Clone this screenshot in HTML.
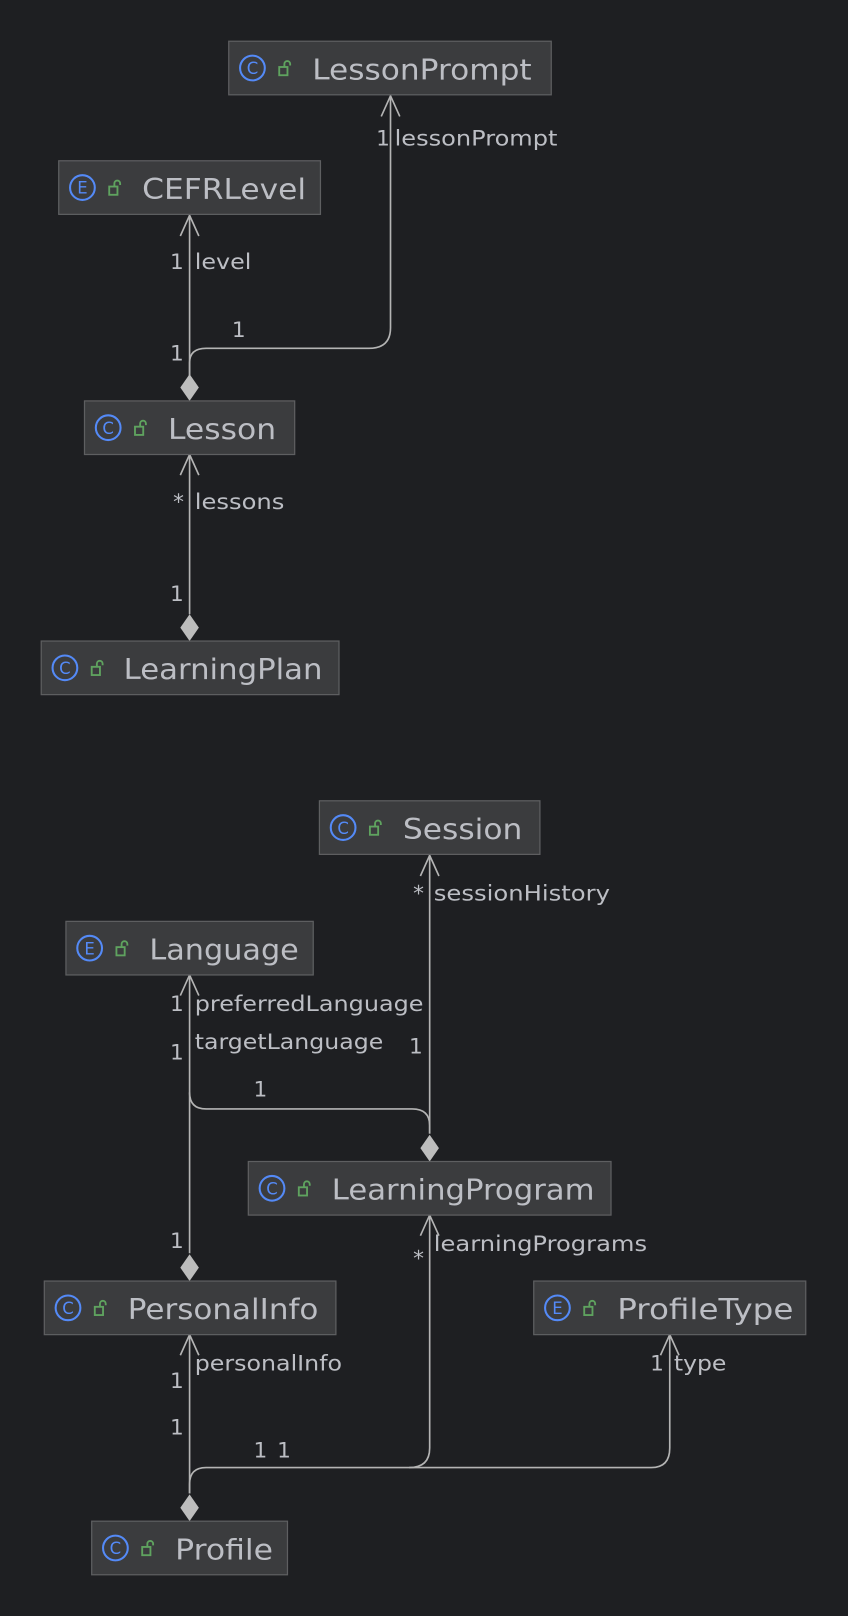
<!DOCTYPE html>
<html><head><meta charset="utf-8"><style>
html,body{margin:0;padding:0;background:#1e1f22;}
svg{display:block}
text{font-family:"DejaVu Sans","Liberation Sans",sans-serif;fill:#bcbec4}
.t{font-size:28px}
.l{font-size:21px}
.ln{stroke:#b4b4b4;stroke-width:1.6;fill:none}
.box{fill:#3b3c3e;stroke:#5e5f61;stroke-width:1.2}
.dia{fill:#bdbdbd}
</style></head><body>
<svg width="848" height="1616" viewBox="0 0 823 1568" preserveAspectRatio="none">
<defs>
<g id="lock"><rect x="0" y="4" width="8" height="8" fill="none" stroke="#5fa35f" stroke-width="1.8"/><path d="M5 4 V1 a2.8 2.8 0 0 1 5.6 0 V2.5" fill="none" stroke="#5fa35f" stroke-width="1.8"/></g>
</defs>

<g class="ln">
<path d="M184 365 V209"/>
<path d="M175 229 L184 209 L193 229"/>
<path d="M184 365 V352 Q184 338 200 338 H358 Q379 338 379 318 V93"/>
<path d="M370 113 L379 93 L388 113"/>
<path d="M184 596 V441"/>
<path d="M175 461 L184 441 L193 461"/>
<path d="M417 1100 V830"/>
<path d="M408 850 L417 830 L426 850"/>
<path d="M417 1100 V1092 Q417 1076 400 1076 H200 Q184 1076 184 1060"/>
<path d="M184 1216 V946"/>
<path d="M175 966 L184 946 L193 966"/>
<path d="M184 1449 V1295"/>
<path d="M175 1315 L184 1295 L193 1315"/>
<path d="M184 1449 V1440 Q184 1424 200 1424 H632 Q650 1424 650 1405 V1295"/>
<path d="M641 1315 L650 1295 L659 1315"/>
<path d="M397 1424 Q417 1424 417 1405 V1179"/>
<path d="M408 1199 L417 1179 L426 1199"/>
</g>
<path class="dia" d="M184 389 L175 376 L184 363 L193 376Z"/>
<path class="dia" d="M184 622 L175 609 L184 596 L193 609Z"/>
<path class="dia" d="M417 1127 L408 1114 L417 1101 L426 1114Z"/>
<path class="dia" d="M184 1243 L175 1230 L184 1217 L193 1230Z"/>
<path class="dia" d="M184 1476 L175 1463 L184 1450 L193 1463Z"/>

<g class="l">
<text x="365" y="141">1</text><text x="383" y="141" textLength="158" lengthAdjust="spacingAndGlyphs">lessonPrompt</text>
<text x="165" y="261">1</text><text x="189" y="261" textLength="55" lengthAdjust="spacingAndGlyphs">level</text>
<text x="225" y="327">1</text>
<text x="165" y="350">1</text>
<text x="168" y="494">*</text><text x="189" y="494" textLength="87" lengthAdjust="spacingAndGlyphs">lessons</text>
<text x="165" y="583">1</text>
<text x="401" y="874">*</text><text x="421" y="874" textLength="171" lengthAdjust="spacingAndGlyphs">sessionHistory</text>
<text x="165" y="981">1</text><text x="189" y="981" textLength="222" lengthAdjust="spacingAndGlyphs">preferredLanguage</text>
<text x="189" y="1018" textLength="183" lengthAdjust="spacingAndGlyphs">targetLanguage</text>
<text x="165" y="1028">1</text>
<text x="397" y="1022">1</text>
<text x="246" y="1064">1</text>
<text x="165" y="1211">1</text>
<text x="401" y="1228">*</text><text x="421" y="1214" textLength="207" lengthAdjust="spacingAndGlyphs">learningPrograms</text>
<text x="165" y="1347">1</text><text x="189" y="1330" textLength="143" lengthAdjust="spacingAndGlyphs">personalInfo</text>
<text x="165" y="1392">1</text>
<text x="246" y="1414">1</text><text x="269" y="1414">1</text>
<text x="631" y="1330">1</text><text x="654" y="1330" textLength="51" lengthAdjust="spacingAndGlyphs">type</text>
</g>

<g>
<rect class="box" x="222" y="40" width="313" height="52"/>
<circle cx="245" cy="66" r="12" fill="none" stroke="#548af7" stroke-width="2"/><text x="245" y="72" font-size="16" text-anchor="middle" style="fill:#548af7">C</text>
<use href="#lock" x="271" y="61"/><text class="t" x="303" y="77" textLength="213" lengthAdjust="spacingAndGlyphs">LessonPrompt</text>

<rect class="box" x="57" y="156" width="254" height="52"/>
<circle cx="80" cy="182" r="12" fill="none" stroke="#548af7" stroke-width="2"/><text x="80" y="188" font-size="16" text-anchor="middle" style="fill:#548af7">E</text>
<use href="#lock" x="106" y="177"/><text class="t" x="138" y="193" textLength="159" lengthAdjust="spacingAndGlyphs">CEFRLevel</text>

<rect class="box" x="82" y="389" width="204" height="52"/>
<circle cx="105" cy="415" r="12" fill="none" stroke="#548af7" stroke-width="2"/><text x="105" y="421" font-size="16" text-anchor="middle" style="fill:#548af7">C</text>
<use href="#lock" x="131" y="410"/><text class="t" x="163" y="426" textLength="105" lengthAdjust="spacingAndGlyphs">Lesson</text>

<rect class="box" x="40" y="622" width="289" height="52"/>
<circle cx="63" cy="648" r="12" fill="none" stroke="#548af7" stroke-width="2"/><text x="63" y="654" font-size="16" text-anchor="middle" style="fill:#548af7">C</text>
<use href="#lock" x="89" y="643"/><text class="t" x="120" y="659" textLength="193" lengthAdjust="spacingAndGlyphs">LearningPlan</text>

<rect class="box" x="310" y="777" width="214" height="52"/>
<circle cx="333" cy="803" r="12" fill="none" stroke="#548af7" stroke-width="2"/><text x="333" y="809" font-size="16" text-anchor="middle" style="fill:#548af7">C</text>
<use href="#lock" x="359" y="798"/><text class="t" x="391" y="814" textLength="116" lengthAdjust="spacingAndGlyphs">Session</text>

<rect class="box" x="64" y="894" width="240" height="52"/>
<circle cx="87" cy="920" r="12" fill="none" stroke="#548af7" stroke-width="2"/><text x="87" y="926" font-size="16" text-anchor="middle" style="fill:#548af7">E</text>
<use href="#lock" x="113" y="915"/><text class="t" x="145" y="931" textLength="145" lengthAdjust="spacingAndGlyphs">Language</text>

<rect class="box" x="241" y="1127" width="352" height="52"/>
<circle cx="264" cy="1153" r="12" fill="none" stroke="#548af7" stroke-width="2"/><text x="264" y="1159" font-size="16" text-anchor="middle" style="fill:#548af7">C</text>
<use href="#lock" x="290" y="1148"/><text class="t" x="322" y="1164" textLength="255" lengthAdjust="spacingAndGlyphs">LearningProgram</text>

<rect class="box" x="43" y="1243" width="283" height="52"/>
<circle cx="66" cy="1269" r="12" fill="none" stroke="#548af7" stroke-width="2"/><text x="66" y="1275" font-size="16" text-anchor="middle" style="fill:#548af7">C</text>
<use href="#lock" x="92" y="1264"/><text class="t" x="124" y="1280" textLength="185" lengthAdjust="spacingAndGlyphs">PersonalInfo</text>

<rect class="box" x="518" y="1243" width="264" height="52"/>
<circle cx="541" cy="1269" r="12" fill="none" stroke="#548af7" stroke-width="2"/><text x="541" y="1275" font-size="16" text-anchor="middle" style="fill:#548af7">E</text>
<use href="#lock" x="567" y="1264"/><text class="t" x="599" y="1280" textLength="171" lengthAdjust="spacingAndGlyphs">ProfileType</text>

<rect class="box" x="89" y="1476" width="190" height="52"/>
<circle cx="112" cy="1502" r="12" fill="none" stroke="#548af7" stroke-width="2"/><text x="112" y="1508" font-size="16" text-anchor="middle" style="fill:#548af7">C</text>
<use href="#lock" x="138" y="1497"/><text class="t" x="170" y="1513" textLength="95" lengthAdjust="spacingAndGlyphs">Profile</text>
</g>
</svg>
</body></html>
